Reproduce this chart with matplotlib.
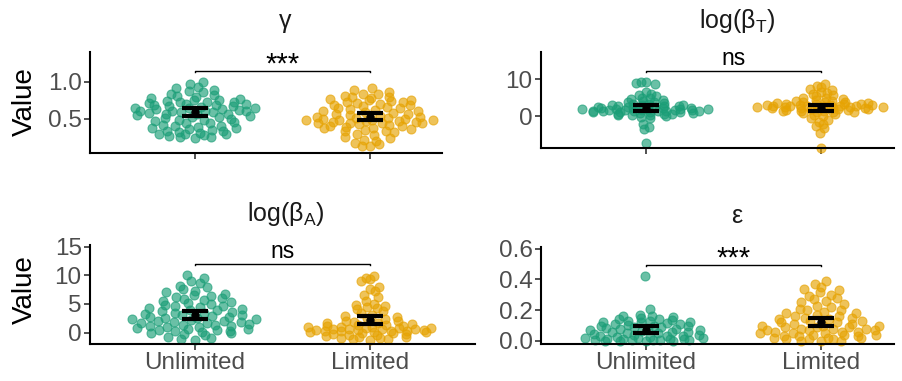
import numpy as np
import matplotlib.pyplot as plt

plt.rcParams['font.family'] = ['Liberation Sans', 'DejaVu Sans']
plt.rcParams['mathtext.fontset'] = 'custom'
plt.rcParams['mathtext.rm'] = 'Liberation Sans'
plt.rcParams['mathtext.it'] = 'Liberation Sans:italic'

groups = ["Unlimited", "Limited"]

# gamma
gamma_unlimited = [0.99, 0.97, 0.93, 0.91, 0.89, 0.88, 0.86, 0.84, 0.82, 0.81, 0.80, 0.78, 0.77, 0.76,
                   0.75, 0.74, 0.73, 0.73, 0.72, 0.71, 0.70, 0.70, 0.69, 0.68, 0.67, 0.67, 0.66, 0.65,
                   0.65, 0.64, 0.63, 0.63, 0.62, 0.61, 0.61, 0.60, 0.60, 0.59, 0.59, 0.58, 0.57, 0.57,
                   0.56, 0.55, 0.54, 0.53, 0.52, 0.51, 0.50, 0.49, 0.48, 0.47, 0.46, 0.45, 0.44, 0.42,
                   0.41, 0.40, 0.39, 0.38, 0.37, 0.36, 0.35, 0.34, 0.33, 0.32, 0.31, 0.30, 0.30, 0.29,
                   0.28, 0.27, 0.26, 0.25, 0.24]
gamma_limited = [0.91, 0.89, 0.86, 0.84, 0.83, 0.81, 0.80, 0.79, 0.78, 0.77, 0.76, 0.75, 0.74, 0.73,
                 0.72, 0.71, 0.70, 0.69, 0.68, 0.67, 0.66, 0.65, 0.64, 0.63, 0.62, 0.61, 0.60, 0.59,
                 0.58, 0.57, 0.56, 0.55, 0.54, 0.53, 0.52, 0.51, 0.51, 0.50, 0.50, 0.49, 0.49, 0.48,
                 0.48, 0.47, 0.47, 0.46, 0.46, 0.45, 0.45, 0.44, 0.44, 0.43, 0.42, 0.41, 0.40, 0.39,
                 0.38, 0.37, 0.36, 0.35, 0.34, 0.33, 0.32, 0.30, 0.28, 0.26, 0.24, 0.22, 0.20, 0.18,
                 0.16, 0.14, 0.13]

# log(beta_T)
betaT_unlimited = [9.2, 9.1, 8.9, 8.7, 6.4, 6.0, 5.6, 5.3, 5.0, 4.8, 4.5, 4.3, 4.1, 3.9, 3.7, 3.5,
                   3.4, 3.2, 3.1, 3.0, 2.9, 2.8, 2.7, 2.6, 2.5, 2.4, 2.35, 2.3, 2.2, 2.15, 2.1, 2.0,
                   1.95, 1.9, 1.85, 1.8, 1.75, 1.7, 1.65, 1.6, 1.55, 1.5, 1.45, 1.4, 1.35, 1.3, 1.25,
                   1.2, 1.15, 1.1, 1.0, 0.9, 0.8, 0.7, 0.6, 0.5, 0.4, 0.3, 0.2, 0.0, -0.2, -0.4,
                   -2.0, -2.8, -3.6, -7.2]
betaT_limited = [8.6, 8.2, 7.8, 7.4, 7.0, 6.6, 6.2, 5.9, 5.6, 5.3, 5.0, 4.8, 4.6, 4.4, 4.2, 4.0,
                 3.9, 3.8, 3.7, 3.6, 3.5, 3.4, 3.3, 3.2, 3.15, 3.1, 3.0, 2.95, 2.9, 2.85, 2.8, 2.75,
                 2.7, 2.65, 2.6, 2.55, 2.5, 2.45, 2.4, 2.35, 2.3, 2.25, 2.2, 2.1, 2.0, 1.9, 1.8,
                 1.7, 1.6, 1.5, 1.4, 1.3, 1.2, 1.1, 1.0, 0.8, 0.5, 0.2, -0.1, -0.5, -1.0, -1.5,
                 -2.0, -2.6, -3.2, -4.6, -8.6]

# log(beta_A)
betaA_unlimited = [10.0, 9.6, 9.0, 8.7, 8.2, 7.9, 7.6, 7.3, 7.0, 6.8, 6.6, 6.4, 6.2, 6.0, 5.9, 5.7,
                   5.5, 5.3, 5.2, 5.0, 4.9, 4.7, 4.6, 4.4, 4.3, 4.1, 4.0, 3.9, 3.7, 3.6, 3.5, 3.4,
                   3.2, 3.1, 3.0, 2.9, 2.8, 2.7, 2.6, 2.5, 2.4, 2.3, 2.2, 2.1, 2.0, 1.9, 1.8, 1.7,
                   1.6, 1.5, 1.4, 1.3, 1.2, 1.1, 1.0, 0.9, 0.8, 0.7, 0.6, 0.5, 0.4, 0.3, 0.2, 0.1,
                   0.0, -0.1, -0.3, -0.5, -0.7, -0.9, -1.1, -1.3]
betaA_limited = [9.9, 9.6, 9.3, 9.0, 8.0, 7.6, 7.2, 6.6, 6.2, 5.6, 5.0, 4.8, 4.6, 4.5, 4.3, 4.1,
                 3.8, 3.4, 3.1, 2.9, 2.7, 2.5, 2.3, 2.1, 2.0, 1.8, 1.7, 1.6, 1.5, 1.4, 1.3, 1.2,
                 1.1, 1.0, 0.95, 0.9, 0.85, 0.8, 0.75, 0.7, 0.65, 0.6, 0.55, 0.5, 0.45, 0.4, 0.35,
                 0.3, 0.25, 0.2, 0.15, 0.1, 0.05, 0.0, -0.1, -0.2, -0.3, -0.4, -0.5, -0.6, -0.7,
                 -0.8, -0.9, -1.0, -1.1, -1.2, -1.3]

# epsilon
eps_unlimited = [0.42, 0.21, 0.17, 0.165, 0.16, 0.155, 0.15, 0.145, 0.14, 0.135, 0.13, 0.13, 0.125,
                 0.12, 0.12, 0.115, 0.11, 0.11, 0.105, 0.10, 0.10, 0.095, 0.09, 0.09, 0.085, 0.08,
                 0.08, 0.075, 0.07, 0.07, 0.065, 0.06, 0.06, 0.055, 0.05, 0.05, 0.045, 0.04, 0.04,
                 0.035, 0.03, 0.03, 0.025, 0.025, 0.02, 0.02, 0.018, 0.015, 0.012, 0.01, 0.01,
                 0.008, 0.006, 0.005, 0.004, 0.003, 0.002, 0.001, 0.0, 0.0]
eps_limited = [0.39, 0.37, 0.35, 0.34, 0.33, 0.32, 0.30, 0.29, 0.28, 0.27, 0.26, 0.25, 0.24, 0.23,
               0.22, 0.21, 0.20, 0.20, 0.19, 0.18, 0.18, 0.17, 0.16, 0.16, 0.15, 0.15, 0.14, 0.14,
               0.13, 0.13, 0.12, 0.12, 0.11, 0.11, 0.10, 0.10, 0.10, 0.09, 0.09, 0.09, 0.08, 0.08,
               0.08, 0.07, 0.07, 0.07, 0.06, 0.06, 0.06, 0.05, 0.05, 0.05, 0.04, 0.04, 0.04, 0.03,
               0.03, 0.03, 0.02, 0.02, 0.02, 0.01, 0.01, 0.01, 0.0, 0.0, 0.0]

# mean and interval (Unlimited, Limited)
gamma_mean, gamma_lo, gamma_hi = [0.59, 0.53], [0.54, 0.486], [0.645, 0.577]
betaT_mean, betaT_lo, betaT_hi = [2.2, 2.2], [1.4, 1.4], [3.0, 3.0]
betaA_mean, betaA_lo, betaA_hi = [3.05, 2.2], [2.3, 1.5], [3.8, 2.9]
eps_mean, eps_lo, eps_hi = [0.074, 0.123], [0.052, 0.095], [0.095, 0.15]

titles = ["γ", r"log(β$_{\mathrm{T}}$)", r"log(β$_{\mathrm{A}}$)", "ε"]
signif = ["***", "ns", "ns", "***"]
bracket_y = [1.15, 12.2, 12.0, 0.495]
yticks = [[0.5, 1.0], [0, 10], [0, 5, 10, 15], [0.0, 0.2, 0.4, 0.6]]
yticklabels = [["0.5", "1.0"], ["0", "10"], ["0", "5", "10", "15"], ["0.0", "0.2", "0.4", "0.6"]]

panels = [
    (gamma_unlimited, gamma_limited, gamma_mean, gamma_lo, gamma_hi),
    (betaT_unlimited, betaT_limited, betaT_mean, betaT_lo, betaT_hi),
    (betaA_unlimited, betaA_limited, betaA_mean, betaA_lo, betaA_hi),
    (eps_unlimited, eps_limited, eps_mean, eps_lo, eps_hi),
]

# layout (pixels of the 902x381 figure): left, top, right, bottom
boxes = [(90, 52, 442, 153), (541, 52, 894, 148), (90, 245, 475, 344), (541, 247, 894, 344)]
xlims = [(0.4, 2.41), (0.4, 2.417), (0.4, 2.6), (0.4, 2.417)]
ylims = [(0.04, 1.40), (-8.6, 17.3), (-2.0, 15.3), (-0.02, 0.61)]
colors = ["#1B9E77", "#E6A302"]
W, H = 902, 381


def vdc(n):
    out = []
    for i in range(1, n + 1):
        v, denom, k = 0.0, 1.0, i
        while k:
            denom *= 2
            k, r = divmod(k, 2)
            v += r / denom
        out.append(v)
    return np.array(out)


def quasirandom(y, width=0.38):
    # offsets like ggbeeswarm::geom_quasirandom
    y = np.asarray(y, float)
    n = len(y)
    iqr = np.subtract(*np.percentile(y, [75, 25]))
    bw = 0.9 * min(np.std(y, ddof=1), iqr / 1.34) * n ** -0.2
    grid = np.linspace(y.min() - 3 * bw, y.max() + 3 * bw, 512)
    kde = lambda t: np.exp(-0.5 * ((t[:, None] - y[None, :]) / bw) ** 2).sum(axis=1)
    dens = kde(y) / kde(grid).max()
    rank = np.argsort(np.argsort(y, kind="stable"), kind="stable")
    off = (vdc(n)[rank] - 0.5) * 2
    return off * dens * width


fig = plt.figure(figsize=(W / 100, H / 100), dpi=100)

for k, (u, l, m, lo, hi) in enumerate(panels):
    x0, y0, x1, y1 = boxes[k]
    ax = fig.add_axes([x0 / W, 1 - y1 / H, (x1 - x0) / W, (y1 - y0) / H])
    ax.set_xlim(*xlims[k])
    ax.set_ylim(*ylims[k])

    for g, vals in enumerate([u, l]):
        ax.scatter(g + 1 + quasirandom(vals), vals, s=42, color=colors[g], alpha=0.65,
                   edgecolors=colors[g], linewidths=0.8, zorder=2, clip_on=False)

    x = np.arange(1, 3)
    ax.errorbar(x, m, yerr=[np.array(m) - np.array(lo), np.array(hi) - np.array(m)],
                fmt="o", color="black", ms=5, elinewidth=2.5, capsize=9.5, capthick=3, zorder=3)

    # significance bracket
    by = bracket_y[k]
    tick = 0.015 * (ylims[k][1] - ylims[k][0])
    ax.plot([1, 1, 2, 2], [by - tick, by, by, by - tick], color="black", lw=1.0, zorder=3)
    if signif[k] == "***":
        ax.annotate(signif[k], (1.5, by), xytext=(0, -1.5), textcoords="offset points",
                    ha="center", va="baseline", fontsize=21)
    else:
        ax.annotate(signif[k], (1.5, by), xytext=(0, 4), textcoords="offset points",
                    ha="center", va="baseline", fontsize=16.5)

    ax.annotate(titles[k], (0.555 if k != 2 else 0.508, 1), xycoords="axes fraction",
                xytext=(0, 17), textcoords="offset points", ha="center", va="baseline",
                fontsize=18, color="#1a1a1a")

    ax.spines[["top", "right"]].set_visible(False)
    for s in ["left", "bottom"]:
        ax.spines[s].set_linewidth(1.5)
    ax.set_yticks(yticks[k])
    ax.set_yticklabels(yticklabels[k])
    ax.set_xticks(x)
    if k >= 2:
        ax.set_xticklabels(groups)
    else:
        ax.set_xticklabels([])
    ax.tick_params(length=4, width=1.2, color="#333333", labelsize=17.5,
                   labelcolor="#4D4D4D", pad=2)

fig.text(25 / W, 1 - 102 / H, "Value", rotation=90, ha="center", va="center", fontsize=20)
fig.text(25 / W, 1 - 290 / H, "Value", rotation=90, ha="center", va="center", fontsize=20)

fig.savefig("out.png", dpi=100)
